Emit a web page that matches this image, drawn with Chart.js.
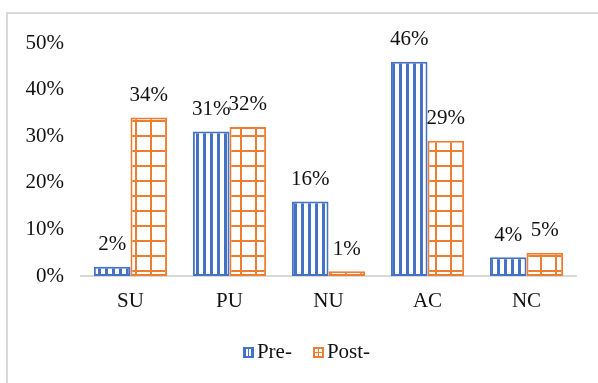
<!DOCTYPE html>
<html>
<head>
<meta charset="utf-8">
<script src="https://cdn.jsdelivr.net/npm/chart.js@4/dist/chart.umd.min.js"></script>
<style>
  html, body { margin: 0; padding: 0; background: #fff; overflow: hidden; }
  #wrap { position: relative; width: 598px; height: 383px; }
  #frame { position: absolute; left: 6px; top: 12px; width: 700px; height: 500px;
           border-left: 2px solid #d9d9d9; border-top: 2px solid #d9d9d9; box-sizing: border-box; }
  canvas { position: absolute; left: 0; top: 0; }
</style>
</head>
<body>
<div id="wrap">
  <div id="frame"></div>
  <canvas id="c" width="598" height="383"></canvas>
</div>
<script>
// Response categories and the share of answers before and after
const categories = ['SU', 'PU', 'NU', 'AC', 'NC'];
const preValues = [2, 31, 16, 46, 4];
const postValues = [34, 32, 1, 29, 5];
const seriesNames = ['Pre-', 'Post-'];
const yTicks = [0, 10, 20, 30, 40, 50];

const BLUE = '#4472C4';
const ORANGE = '#ED7D31';
const FONT = "'Liberation Serif', 'Times New Roman', serif";
const FONT_SIZE = 21;
const TEXT = '#111';

// Vertical-stripe fill for the first series
function stripePattern() {
  const t = document.createElement('canvas');
  t.width = 7; t.height = 7;
  const g = t.getContext('2d');
  g.fillStyle = '#fff'; g.fillRect(0, 0, 7, 7);
  g.fillStyle = BLUE; g.fillRect(0, 0, 3, 7);
  return g.createPattern(t, 'repeat');
}
// Grid fill for the second series
function gridPattern() {
  const t = document.createElement('canvas');
  t.width = 15; t.height = 15;
  const g = t.getContext('2d');
  g.fillStyle = '#fff'; g.fillRect(0, 0, 15, 15);
  g.fillStyle = ORANGE;
  g.fillRect(0, 0, 2, 15);
  g.fillRect(0, 0, 15, 2);
  return g.createPattern(t, 'repeat');
}
// Small legend swatches
function stripeIcon(g, x, y) {
  g.fillStyle = BLUE; g.fillRect(x, y, 11, 11);
  g.fillStyle = '#fff'; g.fillRect(x + 3, y + 2, 2, 7); g.fillRect(x + 6, y + 2, 2, 7);
}
function gridIcon(g, x, y) {
  g.fillStyle = ORANGE; g.fillRect(x, y, 11, 11);
  g.fillStyle = '#fff';
  g.fillRect(x + 2, y + 2, 3, 3); g.fillRect(x + 6, y + 2, 3, 3);
  g.fillRect(x + 2, y + 6, 3, 3); g.fillRect(x + 6, y + 6, 3, 3);
}
const iconDrawers = [stripeIcon, gridIcon];

// Percentage labels above each bar
const valueLabels = {
  id: 'valueLabels',
  afterDatasetsDraw(chart) {
    const ctx = chart.ctx;
    ctx.save();
    ctx.font = FONT_SIZE + 'px ' + FONT;
    ctx.fillStyle = TEXT;
    ctx.textAlign = 'center';
    ctx.textBaseline = 'middle';
    chart.data.datasets.forEach((ds, i) => {
      chart.getDatasetMeta(i).data.forEach((bar, j) => {
        ctx.fillText(ds.data[j] + '%', bar.x, bar.y - 22);
      });
    });
    ctx.restore();
  }
};

// Compact legend below the axis: swatch, short gap, series name
const compactLegend = {
  id: 'compactLegend',
  afterDraw(chart) {
    const ctx = chart.ctx;
    ctx.save();
    ctx.font = FONT_SIZE + 'px ' + FONT;
    ctx.fillStyle = TEXT;
    ctx.textBaseline = 'middle';
    ctx.textAlign = 'left';
    const box = 11, gap = 3, itemGap = 21;
    const widths = chart.data.datasets.map(ds => box + gap + ctx.measureText(ds.label).width);
    const total = widths.reduce((a, b) => a + b, 0) + itemGap * (widths.length - 1);
    const cy = chart.chartArea.bottom + 76;
    let x = (chart.chartArea.left + chart.chartArea.right) / 2 - total / 2 - 22;
    chart.data.datasets.forEach((ds, i) => {
      iconDrawers[i](ctx, Math.round(x), Math.round(cy - box / 2));
      ctx.fillStyle = TEXT;
      ctx.fillText(ds.label, x + box + gap, cy);
      x += widths[i] + itemGap;
    });
    ctx.restore();
  }
};

new Chart(document.getElementById('c'), {
  type: 'bar',
  data: {
    labels: categories,
    datasets: [
      { label: seriesNames[0], data: preValues, backgroundColor: stripePattern(),
        borderColor: BLUE, borderWidth: 2, borderSkipped: false },
      { label: seriesNames[1], data: postValues, backgroundColor: gridPattern(),
        borderColor: ORANGE, borderWidth: 2, borderSkipped: false }
    ]
  },
  options: {
    responsive: false,
    animation: false,
    devicePixelRatio: 1,
    layout: { padding: { top: 43, right: 22, left: 0, bottom: 67 } },
    datasets: { bar: { categoryPercentage: 0.74, barPercentage: 1.0 } },
    scales: {
      x: {
        afterFit(scale) { scale.height = 40; },
        grid: { display: false },
        border: { color: '#d9d9d9', width: 2 },
        ticks: { font: { family: FONT, size: FONT_SIZE }, color: TEXT, padding: 5 }
      },
      y: {
        min: 0, max: 50,
        afterBuildTicks(scale) { scale.ticks = yTicks.map(v => ({ value: v })); },
        afterFit(scale) { scale.width = 81; },
        grid: { display: false },
        border: { display: false },
        ticks: { font: { family: FONT, size: FONT_SIZE }, color: TEXT, padding: 9,
                 callback: v => v + '%' }
      }
    },
    plugins: {
      tooltip: { enabled: false },
      legend: { display: false }
    }
  },
  plugins: [valueLabels, compactLegend]
});
</script>
</body>
</html>
